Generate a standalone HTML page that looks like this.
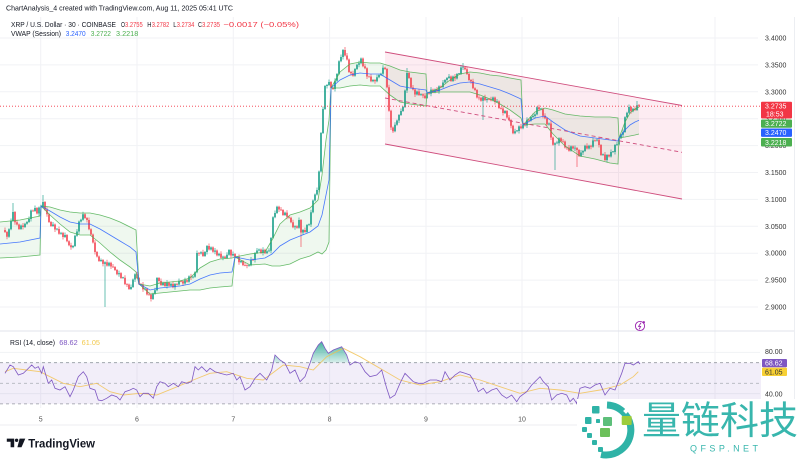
<!DOCTYPE html>
<html><head><meta charset="utf-8">
<style>
html,body{margin:0;padding:0;background:#fff;overflow:hidden;}
svg{display:block;}
text{font-family:"Liberation Sans","Noto Sans CJK SC",sans-serif;}
</style></head>
<body>
<svg width="800" height="460" viewBox="0 0 800 460" xmlns="http://www.w3.org/2000/svg">
<defs>
  <clipPath id="mainClip"><rect x="0" y="17" width="759" height="313"/></clipPath>
  <clipPath id="rsiClip"><rect x="0" y="333" width="761" height="75"/></clipPath>
  <clipPath id="obClip"><rect x="0" y="333" width="761" height="29.7"/></clipPath>
  <linearGradient id="gob" x1="0" y1="340" x2="0" y2="363" gradientUnits="userSpaceOnUse">
    <stop offset="0" stop-color="#089981" stop-opacity="0.8"/>
    <stop offset="1" stop-color="#089981" stop-opacity="0.15"/>
  </linearGradient>
</defs>

<!-- grid -->
<g stroke="#f1f2f5" stroke-width="1">
  <line x1="40.7" y1="17" x2="40.7" y2="408"/>
  <line x1="137" y1="17" x2="137" y2="408"/>
  <line x1="233.3" y1="17" x2="233.3" y2="408"/>
  <line x1="329.6" y1="17" x2="329.6" y2="408"/>
  <line x1="426" y1="17" x2="426" y2="408"/>
  <line x1="522" y1="17" x2="522" y2="408"/>
  <line x1="618.5" y1="17" x2="618.5" y2="408"/>
  <line x1="715" y1="17" x2="715" y2="408"/>
  <line x1="0" y1="38" x2="758" y2="38"/>
  <line x1="0" y1="64.9" x2="758" y2="64.9"/>
  <line x1="0" y1="91.8" x2="758" y2="91.8"/>
  <line x1="0" y1="118.7" x2="758" y2="118.7"/>
  <line x1="0" y1="145.6" x2="758" y2="145.6"/>
  <line x1="0" y1="172.5" x2="758" y2="172.5"/>
  <line x1="0" y1="199.4" x2="758" y2="199.4"/>
  <line x1="0" y1="226.3" x2="758" y2="226.3"/>
  <line x1="0" y1="253.2" x2="758" y2="253.2"/>
  <line x1="0" y1="280.1" x2="758" y2="280.1"/>
  <line x1="0" y1="307" x2="758" y2="307"/>
  <line x1="0" y1="352.4" x2="760" y2="352.4"/>
  <line x1="0" y1="393.6" x2="760" y2="393.6"/>
</g>
<line x1="0" y1="331" x2="795" y2="331" stroke="#e0e3eb" stroke-width="1"/>
<line x1="0" y1="425" x2="795" y2="425" stroke="#eceef2" stroke-width="1"/>
<line x1="794.5" y1="17" x2="794.5" y2="425" stroke="#eceef2" stroke-width="1"/>

<!-- channel fill -->
<polygon points="385,52 682,105.5 682,199 385,144" fill="rgba(233,30,99,0.085)"/>

<!-- VWAP band fills -->
<g fill="rgba(76,175,80,0.09)" clip-path="url(#mainClip)">
  <polygon points="0,222 20,220 40,216 40,255 20,257 0,258"/>
  <polygon points="41,206 50,207 60,210 70,212 80,213 90,213 100,215 110,218 120,222 130,227 136,230 136,272 130,267 120,260 110,252 100,243 90,235 80,235 70,232 60,224 50,215"/>
  <polygon points="139,284 150,286 160,283 170,282 180,281 190,278 200,268 210,262 220,259 232,258 232,286 220,287 210,288 200,290 190,290 180,291 170,292 160,293 150,294"/>
  <polygon points="235,257 250,254 265,252 272,240 280,224 290,215 300,212 310,208 318,200 322,175 326,140 329,120 329,242 326,250 322,254 318,252 310,256 300,259 290,264 280,266 272,266 265,264 250,265"/>
  <polygon points="331,88 340,72 350,64 360,62 370,63 380,63 390,66 400,70 410,72 426,74 426,106 410,104 400,102 390,95 380,86 370,86 360,85 350,86 340,88"/>
  <polygon points="427,93 440,88 450,80 460,74 470,72 480,73 490,75 500,76 510,78 521,80 521,118 510,110 500,104 490,99 480,95 470,92 460,92 450,92 440,92"/>
  <polygon points="523,125 535,112 545,108 553,110 565,114 580,116 595,117 610,117 618,118 618,164 610,163 595,159 580,156 565,146 553,134 545,124 535,124"/>
  <polygon points="619,138 625,122 630,113 635,109 639,107 639,134 635,135 630,136 625,137"/>
</g>

<!-- candles -->
<g clip-path="url(#mainClip)" fill="none">
<path stroke="#089981" stroke-width="0.6" d="M9 228.2V237.7M11 218.5V230.2M13 203V222M21 224.5V230M25 222.7V228M27 221V224.7M29 216.5V223M31 209.5V221.5M35 205.5V212M39 206.5V216M41 204.8V208.5M43 195V208.3M53 222V227M57 228V230.5M61 231.9V234.7M65 232.5V238M73 245V248.3M75 234.8V247M77 229V236.8M79 220.5V234M81 218.8V222.5M83 211.8V220.8M101 258.5V262M105 261.3V307M109 261.8V266.6M119 270.6V276.7M123 276.8V279M131 284.5V290M133 278.5V288M135 273.3V282M145 287.8V290.4M153 292.7V300M155 287.7V294.7M157 277V291.2M163 281.5V286M167 280.1V288.5M171 282.9V286.7M175 283V289.7M179 278.5V285.5M185 277.8V284.5M189 275.4V282.8M193 275.8V278.5M195 271.3V277.8M197 250.5V273.3M201 251.3V254.5M205 251V257M207 245V254.5M211 246.4V250.5M215 248V254.2M219 252.8V256.4M223 255.6V260.2M227 252.2V259M229 249V255.7M233 251.5V256.5M237 255.9V258.5M241 260V263.2M249 264.3V266.8M251 257V266.3M255 252V262.5M257 248V254M259 248.5V251.5M263 247.3V255.5M267 250.3V254.1M269 248.3V252.3M271 237V253.3M273 216.3V239M275 210.5V218.3M277 205.7V214M285 211.6V216M295 225.3V229.8M299 217.5V228.7M303 229V235M307 224V233M309 223.5V226M311 209.8V227M313 199.5V213.3M315 193.5V201.5M317 187.5V195.5M319 170.5V192.5M321 132V172.5M323 106.5V134M325 85V110M327 84V88.5M329 79.5V86M335 78.2V91.5M337 73V81.7M339 60.2V75M341 54.5V62.2M343 49V59.5M355 68V76.8M357 63.7V70M359 60.8V67.2M361 57.5V64.3M373 79V82.3M377 74.8V82.2M379 74V78.3M381 72.7V76M383 65.3V76.2M395 122.2V132.3M397 119.5V125.7M399 114V123M401 108.5V116M403 106V112M405 89.5V108M407 68V93M417 90.5V95.5M421 93.2V96M427 91.9V99M431 87.1V96.3M435 88.5V93.3M439 85.4V93.7M443 80V88M445 79V83.5M447 77V82.5M449 74V79M453 75.5V82M457 73V79.5M459 73V75M461 65V75M463 63V70M483 96.2V120M487 98V102.6M493 96.5V101.4M497 99V103M505 110V114M515 128.7V134.3M517 130V132.2M519 125.4V133.5M523 123.7V129.3M527 117.3V128M531 116V121.5M533 113.5V118M535 113.4V118.5M537 106.3V115.4M541 107.8V110.3M549 122.5V125.5M555 142.3V170M557 140.8V144.3M559 137.3V145.8M571 145.4V151.8M575 145.5V151M581 150V157M583 150V155M585 144.7V152M589 144.8V149.5M593 137.9V147.8M597 138.7V141.5M603 153.5V156M607 154V162.5M611 149.5V157.5M613 151V153M615 144V154.5M617 142V146M619 137.3V145.5M621 133.7V139.3M623 129.5V137.2M625 116.2V133M627 111.7V118.2M629 104.5V113.7M633 107.8V112.2M637 101V111"/>
<path stroke="#f23645" stroke-width="0.6" d="M5 227.5V233M7 231V239.2M15 211V224.7M17 219.7V225.5M19 223.5V230M23 223V229.5M33 209.5V212M37 207V214.5M45 201V210.8M47 207.3V216.8M49 213.3V223M51 221V227M55 223.5V232M59 226.5V234.7M63 231.9V239.5M67 234V242.3M69 240.3V246.3M71 242.8V249.8M85 213.3V219M87 217V222.5M89 217.5V230.2M91 228.2V235.5M93 233.5V243.5M95 240V254.5M97 251V257.5M99 255.5V262M103 259V266.4M107 259.8V266.6M111 261.8V269M113 264V268M115 266V271M117 269V275.2M121 272.1V279M125 275.3V285.1M127 283.1V287M129 283.5V290M137 271.8V279M139 277V285M141 283V285.5M143 282V291.9M147 287.8V295.5M149 292V295.5M151 293.5V301.5M159 277V283.5M161 278.5V286M165 281.5V287M169 281.6V286.7M173 281.4V288.2M177 283V285.5M181 280V282.2M183 280.2V286M187 279.3V282.8M191 273.9V280M199 252V256M203 249.8V257M209 243.5V250.5M213 246.4V252.7M217 249.5V256.4M221 251.3V258.7M225 255.6V259M231 249V258M235 253V258.5M239 254.4V264.7M243 260V266.1M245 262.6V266.2M247 264.2V268.3M253 258.5V261M261 248.5V254M265 248.8V254.1M279 205.7V212M281 207V211M283 209V216M287 210.1V219.2M289 215.7V218.8M291 216.8V223.3M293 219.8V228.3M297 225.3V228.7M301 219V247M305 227.5V233M331 81V89M333 87V90M345 47V56.5M347 53V60.5M349 58.5V73M351 71V75.8M353 70.8V76.8M363 57.5V67.3M365 63.8V69.3M367 67.3V79M369 75.5V77.5M371 74V82.3M375 79V83.7M385 66.8V70M387 68V88.3M389 84.8V111.8M391 109.8V130M393 126.5V133M409 72V79M411 77V88.5M413 85V90.5M415 88.5V97M419 89V96M423 93.2V98.1M425 93.1V99M429 91.9V94.8M433 88.6V93.3M437 87V92.2M441 85.4V88M451 75.5V82M455 74V81M465 66.5V70.3M467 66.8V75M469 73V81M471 79V83.7M473 78.7V89.3M475 87.3V91M477 89V98.5M479 95V100.3M481 96.8V101.8M485 94.7V101.1M489 98V100.2M491 96.7V101.4M495 96.5V104.5M499 100.5V109M501 107V109.5M503 106V115.5M507 110V118.5M509 115V121M511 119V128.3M513 124.8V134.3M521 123.9V129.3M525 123.7V126.5M529 118.8V121.5M539 104.8V110.3M543 107.8V118.3M545 113.3V119.3M547 117.3V125.5M551 121V140M553 136.5V145.8M561 137.3V142.5M563 139V142.5M565 140.5V148.5M567 146.5V150M569 145V151.8M573 145.4V149.5M577 147V167M579 149V157M587 143.2V149.5M591 144.8V149.3M595 139.4V141.5M599 137.2V147.5M601 144V156M605 152V161M609 154V157.5M631 106V113.7M635 106.3V111M639 104V107.2"/>
<path stroke="#089981" stroke-width="1.5" d="M9 236.7V229.2M11 229.2V221M13 221V212M21 229V225.5M25 227V223.7M27 223.7V222M29 222V219M31 219V210.5M35 211V208M39 213.5V207.5M41 207.5V206.7M43 207.3V202M53 226V224.5M57 229.5V228.7M61 233.7V232.9M65 237V235M73 247.3V246M75 246V235.8M77 235.8V231.5M79 231.5V221.5M81 221.5V219.8M83 219.8V214.3M101 261V260M105 263.9V262.3M109 265.6V262.8M119 274.2V273.1M123 278V277.2M131 289V287M133 287V279.5M135 279.5V274.3M145 289.4V288.6M153 299V293.7M155 293.7V290.2M157 290.2V278M163 285V282.5M167 286V282.6M171 285.7V283.9M175 287.2V284M179 284.5V281M185 283.5V280.3M189 281.8V276.4M193 277.5V276.7M195 276.8V272.3M197 272.3V253M201 253.5V252.3M205 256V252M207 252V246M211 249.5V247.4M215 251.7V250.5M219 255.4V253.8M223 257.7V256.6M227 258V254.7M229 254.7V250M233 255.5V254M237 257.5V256.7M241 262.2V261M249 265.8V265M251 265.3V259.5M255 260V253M257 253V250.5M259 250.5V249.5M263 253V249.8M267 253.1V251.3M269 251.3V250.5M271 250.8V238M273 238V217.3M275 217.3V213M277 213V206.7M285 215V212.6M295 227.3V226.3M299 227.7V220M303 232.5V230M307 232V225M309 225V224.2M311 224.5V212.3M313 212.3V200.5M315 200.5V194.5M317 194.5V190M319 190V171.5M321 171.5V133M323 133V109M325 109V86M327 86V85M329 85V82M335 89V80.7M337 80.7V74M339 74V61.2M341 61.2V57M343 57V50M355 75.8V69M357 69V64.7M359 64.7V63.3M361 63.3V58.5M373 81.3V80M377 81.2V77.3M379 77.3V75M381 75V73.7M383 73.7V67.8M395 131.3V124.7M397 124.7V120.5M399 120.5V115M401 115V111M403 111V107M405 107V90.5M407 90.5V73M417 94.5V91.5M421 95V94.2M427 98V92.9M431 93.8V89.6M435 92.3V89.5M439 91.2V86.4M443 87V82.5M445 82.5V80M447 80V78M449 78V76.5M453 81V76.5M457 78.5V74M459 74V73.2M461 74V67.5M463 67.5V66.7M483 100.8V97.2M487 100.1V99M493 100.4V97.5M497 102V101.2M505 113V111M515 133.3V131.2M517 131.2V130.4M519 131V126.4M523 128.3V124.7M527 125.5V119.8M531 120.5V117M533 117V116M535 116V114.4M537 114.4V107.3M541 109.3V108.5M549 124.5V123.5M555 144.8V143.3M557 143.3V142.5M559 143.3V138.3M571 150.8V146.4M575 148.5V147.7M581 156V152.5M583 152.5V151M585 151V145.7M589 148.5V145.8M593 146.8V140.4M597 140.5V139.7M603 155V154.2M607 160V155M611 156.5V152M613 152V151.2M615 152V145M617 145V144.2M619 144.5V138.3M621 138.3V134.7M623 134.7V132M625 132V117.2M627 117.2V112.7M629 112.7V107M633 111.2V108.8M637 110V105.3"/>
<path stroke="#f23645" stroke-width="1.5" d="M5 230V232M7 232V236.7M15 212V222.2M17 222.2V224.5M19 224.5V229M23 225.5V227M33 210.5V211.3M37 208V213.5M45 202V209.8M47 209.8V214.3M49 214.3V222M51 222V226M55 224.5V229.5M59 229V233.7M63 232.9V237M67 235V241.3M69 241.3V245.3M71 245.3V247.3M85 214.3V218M87 218V220M89 220V229.2M91 229.2V234.5M93 234.5V242.5M95 242.5V252M97 252V256.5M99 256.5V261M103 260V263.9M107 262.3V265.6M111 262.8V266.5M113 266.5V267.3M115 267V270M117 270V274.2M121 273.1V278M125 277.8V284.1M127 284.1V284.9M129 284.5V289M137 274.3V278M139 278V284M141 284V284.8M143 284.5V289.4M147 288.8V294.5M149 294.5V295.3M151 294.5V299M159 278V281M161 281V285M165 282.5V286M169 282.6V285.7M173 283.9V287.2M177 284V284.8M181 281V281.8M183 281.2V283.5M187 280.3V281.8M191 276.4V277.5M199 253V253.8M203 252.3V256M209 246V249.5M213 247.4V251.7M217 250.5V255.4M221 253.8V257.7M225 256.6V258M231 250V255.5M235 254V257.5M239 256.9V262.2M243 261V265.1M245 265.1V265.9M247 265.2V266M253 259.5V260.3M261 249.5V253M265 249.8V253.1M279 206.7V209.5M281 209.5V210.3M283 210V215M287 212.6V216.7M289 216.7V217.8M291 217.8V222.3M293 222.3V227.3M297 226.3V227.7M301 220V232.5M305 230V232M331 82V88M333 88V89M345 50V55.5M347 55.5V59.5M349 59.5V72M351 72V73.3M353 73.3V75.8M363 58.5V66.3M365 66.3V68.3M367 68.3V76.5M369 76.5V77.3M371 76.5V81.3M375 80V81.2M385 67.8V69M387 69V87.3M389 87.3V110.8M391 110.8V127.5M393 127.5V131.3M409 73V78M411 78V87.5M413 87.5V89.5M415 89.5V94.5M419 91.5V95M423 94.2V95.6M425 95.6V98M429 92.9V93.8M433 89.6V92.3M437 89.5V91.2M441 86.4V87.2M451 76.5V81M455 76.5V78.5M465 67.5V69.3M467 69.3V74M469 74V80M471 80V81.2M473 81.2V88.3M475 88.3V90M477 90V97.5M479 97.5V98.3M481 97.8V100.8M485 97.2V100.1M489 99V99.8M491 99.2V100.4M495 97.5V102M499 101.5V108M501 108V108.8M503 108.5V113M507 111V117.5M509 117.5V120M511 120V125.8M513 125.8V133.3M521 126.4V128.3M525 124.7V125.5M529 119.8V120.6M539 107.3V109.3M543 108.8V115.8M545 115.8V118.3M547 118.3V124.5M551 123.5V137.5M553 137.5V144.8M561 138.3V141.5M563 141.5V142.3M565 141.5V147.5M567 147.5V148.3M569 147.5V150.8M573 146.4V148.5M577 148V150M579 150V156M587 145.7V148.5M591 145.8V146.8M595 140.4V141.2M599 139.7V145M601 145V155M605 154.5V160M609 155V156.5M631 107V111.2M635 108.8V110M639 105.3V106.2"/>
</g>

<!-- VWAP lines -->
<g fill="none" stroke-width="0.8" stroke-opacity="0.85" clip-path="url(#mainClip)">
  <polyline stroke="#4caf50" points="0,222 20,220 40,216 41,206 50,207 60,210 70,212 80,213 90,213 100,215 110,218 120,222 130,227 136,230 139,284 150,286 160,283 170,282 180,281 190,278 200,268 210,262 220,259 232,258 235,257 250,254 265,252 272,240 280,224 290,215 300,212 310,208 318,200 322,175 326,140 329,120 331,88 340,72 350,64 360,62 370,63 380,63 390,66 400,70 410,72 426,74 427,93 440,88 450,80 460,74 470,72 480,73 490,75 500,76 510,78 521,80 523,125 535,112 545,108 553,110 565,114 580,116 595,117 610,117 618,118 619,138 625,122 630,113 635,109 639,107"/>
  <polyline stroke="#4caf50" points="0,258 20,257 40,255 41,206 50,215 60,224 70,232 80,235 90,235 100,243 110,252 120,260 130,267 136,272 139,284 150,294 160,293 170,292 180,291 190,290 200,290 210,288 220,287 232,286 235,257 250,265 265,264 272,266 280,266 290,264 300,259 310,256 318,252 322,254 326,250 329,242 331,88 340,88 350,86 360,85 370,86 380,86 390,95 400,102 410,104 426,106 427,93 440,92 450,92 460,92 470,92 480,95 490,99 500,104 510,110 521,118 523,125 535,124 545,124 553,134 565,146 580,156 595,159 610,163 618,164 619,138 625,137 630,136 635,135 639,134"/>
  <polyline stroke="#2962ff" points="0,244 20,242 40,238 41,206 50,211 60,217 70,222 80,224 90,224 100,229 110,235 120,241 130,247 136,252 139,284 150,290 160,288 170,287 180,286 190,284 200,279 210,275 220,273 232,272 235,257 250,260 265,258 272,254 280,246 290,240 300,236 310,232 318,226 322,215 326,195 329,180 331,88 340,80 350,75 360,73 370,74 380,74 390,80 400,86 410,88 426,90 427,93 440,90 450,86 460,83 470,82 480,84 490,87 500,90 510,94 521,99 523,125 535,118 545,116 553,122 565,130 580,136 595,138 610,140 618,141 619,138 625,130 630,125 635,122 639,120.3"/>
</g>

<!-- channel lines -->
<g stroke="#cf4e7d" stroke-width="0.9" fill="none">
  <line x1="385" y1="52" x2="682" y2="105.5"/>
  <line x1="385" y1="144" x2="682" y2="199"/>
  <line x1="385" y1="98" x2="682" y2="152.3" stroke-dasharray="4 3"/>
</g>

<!-- current price line -->
<line x1="0" y1="106.2" x2="761" y2="106.2" stroke="#f23645" stroke-width="0.8" stroke-dasharray="1 2"/>

<!-- RSI band -->
<rect x="0" y="362.7" width="761" height="41.2" fill="rgba(126,87,194,0.1)"/>
<line x1="0" y1="362.7" x2="761" y2="362.7" stroke="#9598a1" stroke-width="0.8" stroke-dasharray="3 3"/>
<line x1="0" y1="383.3" x2="761" y2="383.3" stroke="#b2b5be" stroke-width="0.8" stroke-dasharray="3 3"/>
<line x1="0" y1="403.9" x2="761" y2="403.9" stroke="#9598a1" stroke-width="0.8" stroke-dasharray="3 3"/>

<g clip-path="url(#rsiClip)">
  <path clip-path="url(#obClip)" fill="url(#gob)" d="M5,362.7 L5,373.3 10,365 13.3,366.7 18.3,375 23.3,373.3 26.7,370 31.7,365 35,368.3 38.3,366.7 41.7,373.3 43.3,366.7 48.3,383.3 51.7,380 55,388.3 60,390 65,386.7 70,396.7 73.3,390 78.3,376.7 83.3,371.7 86.7,376.7 90,388.3 95,390 98.3,400 101.7,400.7 106.7,398.3 111.7,395 116.7,396.7 120,400 125,391.7 130,390 133.3,388.3 136.7,390 140,396.7 143.3,393.3 148.3,393.3 153.3,398.3 156.7,386.7 160,381.7 165,383.3 168.3,386.7 173.3,383.3 178.3,386.7 181.7,381.7 186.7,383.3 191.7,381.7 195,366.7 198.3,370 201.7,366.7 206.7,371.7 210,368.3 215,371.7 220,373.3 226.7,375 233.3,373.3 236.7,380 240,376.7 245,390 250,386.7 255,378.3 260,373.3 266.7,380 271.7,370 275,355 280,360 285,363.3 290,373.3 295,370 300,381.7 305,376.7 310,363.3 313.3,353.3 318.3,345 321.7,341.7 325,348.3 328.3,353.3 333.3,350 341.7,346.7 346.7,355 350,365 355,361.7 360,363.3 365,371.7 370,376.7 376.7,375 381.7,370 386.7,388.3 390,398.3 395,395 400,383.3 405,373.3 408.3,376.7 413.3,381.7 418.3,383.3 423.3,383.3 430,380 436.7,380 441.7,381.7 445,371.7 450,380 455,375 460,371.7 465,373.3 470,375 473.3,380 478.3,391.7 483.3,388.3 486.7,393.3 491.7,390 496.7,388.3 501.7,395 506.7,398.3 511.7,395 516.7,401.7 520,396.7 526.7,391.7 531.7,385 536.7,380 540,376.7 543.3,381.7 548.3,386.7 551.7,400 556.7,395 561.7,393.3 566.7,395 570,401.7 573.3,398.3 576.7,403.3 580,388.3 585,386.7 590,388.3 595,385 600,383.3 605,395 610,388.3 615,390 618.3,381.7 621.7,373.3 625,363.3 630,363.3 633.3,365 638.3,361.7 640,364 640,362.7 Z"/>
  <polyline fill="none" stroke="#f2c14e" stroke-width="0.9" stroke-opacity="0.8" points="5,371.7 13.3,368.3 26.7,370 40,371.7 50,376.7 63.3,383.3 80,386.7 96.7,383.3 110,391.7 123.3,395 140,393.3 156.7,395 173.3,388.3 193.3,380 210,373.3 226.7,371.7 246.7,378.3 263.3,380 283.3,365 300,366.7 313.3,370 326.7,356.7 343.3,348.3 360,356.7 380,368.3 400,380 420,385 440,381.7 460,375 480,380 500,386.7 520,393.3 540,388.3 560,390 580,393.3 600,390 620,385 633.3,376.7 638.3,371.7"/>
  <polyline fill="none" stroke="#7e57c2" stroke-width="0.8" points="5,373.3 10,365 13.3,366.7 18.3,375 23.3,373.3 26.7,370 31.7,365 35,368.3 38.3,366.7 41.7,373.3 43.3,366.7 48.3,383.3 51.7,380 55,388.3 60,390 65,386.7 70,396.7 73.3,390 78.3,376.7 83.3,371.7 86.7,376.7 90,388.3 95,390 98.3,400 101.7,400.7 106.7,398.3 111.7,395 116.7,396.7 120,400 125,391.7 130,390 133.3,388.3 136.7,390 140,396.7 143.3,393.3 148.3,393.3 153.3,398.3 156.7,386.7 160,381.7 165,383.3 168.3,386.7 173.3,383.3 178.3,386.7 181.7,381.7 186.7,383.3 191.7,381.7 195,366.7 198.3,370 201.7,366.7 206.7,371.7 210,368.3 215,371.7 220,373.3 226.7,375 233.3,373.3 236.7,380 240,376.7 245,390 250,386.7 255,378.3 260,373.3 266.7,380 271.7,370 275,355 280,360 285,363.3 290,373.3 295,370 300,381.7 305,376.7 310,363.3 313.3,353.3 318.3,345 321.7,341.7 325,348.3 328.3,353.3 333.3,350 341.7,346.7 346.7,355 350,365 355,361.7 360,363.3 365,371.7 370,376.7 376.7,375 381.7,370 386.7,388.3 390,398.3 395,395 400,383.3 405,373.3 408.3,376.7 413.3,381.7 418.3,383.3 423.3,383.3 430,380 436.7,380 441.7,381.7 445,371.7 450,380 455,375 460,371.7 465,373.3 470,375 473.3,380 478.3,391.7 483.3,388.3 486.7,393.3 491.7,390 496.7,388.3 501.7,395 506.7,398.3 511.7,395 516.7,401.7 520,396.7 526.7,391.7 531.7,385 536.7,380 540,376.7 543.3,381.7 548.3,386.7 551.7,400 556.7,395 561.7,393.3 566.7,395 570,401.7 573.3,398.3 576.7,403.3 580,388.3 585,386.7 590,388.3 595,385 600,383.3 605,395 610,388.3 615,390 618.3,381.7 621.7,373.3 625,363.3 630,363.3 633.3,365 638.3,361.7 640,364"/>
</g>

<!-- lightning icon -->
<g stroke="#9c27b0" fill="none" stroke-width="0.9">
  <circle cx="640" cy="326" r="4.6"/>
  <path d="M641,322.8 L638.6,326.4 L640.6,326.4 L639.2,329.3"/>
</g>
<circle cx="643.8" cy="322.3" r="1.2" fill="#9c27b0"/>

<!-- price axis labels -->
<g font-size="7" fill="#333">
  <text x="765" y="40.5">3.4000</text>
  <text x="765" y="67.4">3.3500</text>
  <text x="765" y="94.3">3.3000</text>
  <text x="765" y="121.2">3.2500</text>
  <text x="765" y="148.1">3.2000</text>
  <text x="765" y="175">3.1500</text>
  <text x="765" y="201.9">3.1000</text>
  <text x="765" y="228.8">3.0500</text>
  <text x="765" y="255.7">3.0000</text>
  <text x="765" y="282.6">2.9500</text>
  <text x="765" y="309.5">2.9000</text>
  <text x="765" y="354.2">80.00</text>
  <text x="765" y="396.4">40.00</text>
</g>
<rect x="761" y="101.7" width="31" height="16.8" rx="1" fill="#f23645"/>
<text x="765" y="108.4" font-size="7" fill="#fff">3.2735</text>
<text x="766" y="116.3" font-size="7" fill="#fff">18:53</text>
<rect x="761" y="119.5" width="31" height="8.2" rx="1" fill="#4caf50"/>
<text x="765" y="126.1" font-size="7" fill="#fff">3.2722</text>
<rect x="761" y="128.5" width="31" height="8.4" rx="1" fill="#2962ff"/>
<text x="765" y="135.2" font-size="7" fill="#fff">3.2470</text>
<rect x="761" y="138" width="31" height="8.5" rx="1" fill="#4caf50"/>
<text x="765" y="144.8" font-size="7" fill="#fff">3.2218</text>
<rect x="762" y="359" width="25" height="8.3" rx="1" fill="#7e57c2"/>
<text x="765" y="365.7" font-size="7" fill="#fff">68.62</text>
<rect x="762" y="367.6" width="25" height="8.4" rx="1" fill="#f7d034"/>
<text x="765" y="374.4" font-size="7" fill="#333">61.05</text>

<!-- x axis labels -->
<g font-size="7" fill="#555" text-anchor="middle">
  <text x="40.7" y="421.5">5</text>
  <text x="137" y="421.5">6</text>
  <text x="233.3" y="421.5">7</text>
  <text x="329.6" y="421.5">8</text>
  <text x="426" y="421.5">9</text>
  <text x="522" y="421.5">10</text>
  <text x="618.5" y="421.5">11</text>
</g>

<!-- header -->
<text x="6" y="10.5" font-size="7" fill="#131722" textLength="227" lengthAdjust="spacingAndGlyphs">ChartAnalysis_4 created with TradingView.com, Aug 11, 2025 05:41 UTC</text>
<g font-size="7">
  <text x="11" y="27.2" fill="#131722" textLength="105" lengthAdjust="spacingAndGlyphs">XRP / U.S. Dollar · 30 · COINBASE</text>
  <text x="121" y="27.2" fill="#131722" textLength="4" lengthAdjust="spacingAndGlyphs">O</text>
  <text x="125" y="27.2" fill="#f23645" textLength="17.7" lengthAdjust="spacingAndGlyphs">3.2755</text>
  <text x="147.3" y="27.2" fill="#131722" textLength="4.2" lengthAdjust="spacingAndGlyphs">H</text>
  <text x="151.7" y="27.2" fill="#f23645" textLength="17.6" lengthAdjust="spacingAndGlyphs">3.2782</text>
  <text x="173.3" y="27.2" fill="#131722" textLength="3.4" lengthAdjust="spacingAndGlyphs">L</text>
  <text x="176.7" y="27.2" fill="#f23645" textLength="17.6" lengthAdjust="spacingAndGlyphs">3.2734</text>
  <text x="198" y="27.2" fill="#131722" textLength="4" lengthAdjust="spacingAndGlyphs">C</text>
  <text x="202" y="27.2" fill="#f23645" textLength="18" lengthAdjust="spacingAndGlyphs">3.2735</text>
  <text x="223.3" y="27.2" fill="#f23645" textLength="75.7" lengthAdjust="spacingAndGlyphs">−0.0017 (−0.05%)</text>
  <text x="11" y="36.2" fill="#131722" textLength="50" lengthAdjust="spacingAndGlyphs">VWAP (Session)</text>
  <text x="65.7" y="36.2" fill="#2962ff" textLength="20" lengthAdjust="spacingAndGlyphs">3.2470</text>
  <text x="90.7" y="36.2" fill="#4caf50" textLength="20.3" lengthAdjust="spacingAndGlyphs">3.2722</text>
  <text x="116" y="36.2" fill="#4caf50" textLength="22.3" lengthAdjust="spacingAndGlyphs">3.2218</text>
  <text x="10" y="345.2" fill="#131722" textLength="45" lengthAdjust="spacingAndGlyphs">RSI (14, close)</text>
  <text x="59.3" y="345.2" fill="#7e57c2" textLength="18.4" lengthAdjust="spacingAndGlyphs">68.62</text>
  <text x="81.7" y="345.2" fill="#f2c94c" textLength="18.3" lengthAdjust="spacingAndGlyphs">61.05</text>
</g>

<!-- TradingView logo -->
<g fill="#131722">
  <path d="M6.8,438.6 H14.2 V447.2 H10.6 V441.8 H6.8 Z"/>
  <circle cx="16.6" cy="440.3" r="1.7"/>
  <path d="M19.6,438.6 H25.3 L21.5,447.2 H17.4 Z"/>
</g>
<text x="28.3" y="447.6" font-size="11.5" font-weight="bold" fill="#131722" textLength="66.7" lengthAdjust="spacingAndGlyphs">TradingView</text>

<!-- watermark -->
<rect x="577" y="399" width="223" height="61" fill="#fff"/>
<path d="M607,405 A25,25 0 1 1 601,454.5" fill="none" stroke="#2fb3a7" stroke-width="7"/>
<rect x="624" y="409" width="4" height="4" fill="#fff" transform="rotate(45 626 411)"/>
<g fill="#2fb3a7">
  <rect x="592" y="406" width="7.5" height="7.5" rx="1"/>
  <rect x="585" y="417" width="6.5" height="7" rx="1"/>
  <rect x="582" y="427" width="5" height="5" rx="1"/>
  <rect x="587" y="433" width="5" height="5" rx="1"/>
  <rect x="592" y="440" width="5" height="5" rx="1"/>
  <rect x="598" y="447" width="5" height="5" rx="1"/>
  <rect x="596" y="419" width="4" height="4" rx="0.8"/>
</g>
<rect x="603" y="417" width="9" height="9" rx="1" fill="#5dbf7a"/>
<rect x="621.7" y="416" width="10" height="9" rx="1" fill="#9ccc3c"/>
<rect x="600" y="428" width="10" height="9" rx="1" fill="#6cc05a"/>
<text x="642" y="434" font-size="38.5" fill="#38b6ad" font-family="'Noto Sans CJK SC','WenQuanYi Zen Hei',sans-serif" textLength="156" lengthAdjust="spacingAndGlyphs">量链科技</text>
<text x="690" y="451.5" font-size="9" fill="#38b6ad" textLength="68" lengthAdjust="spacing">QFSP.NET</text>
</svg>
</body></html>
